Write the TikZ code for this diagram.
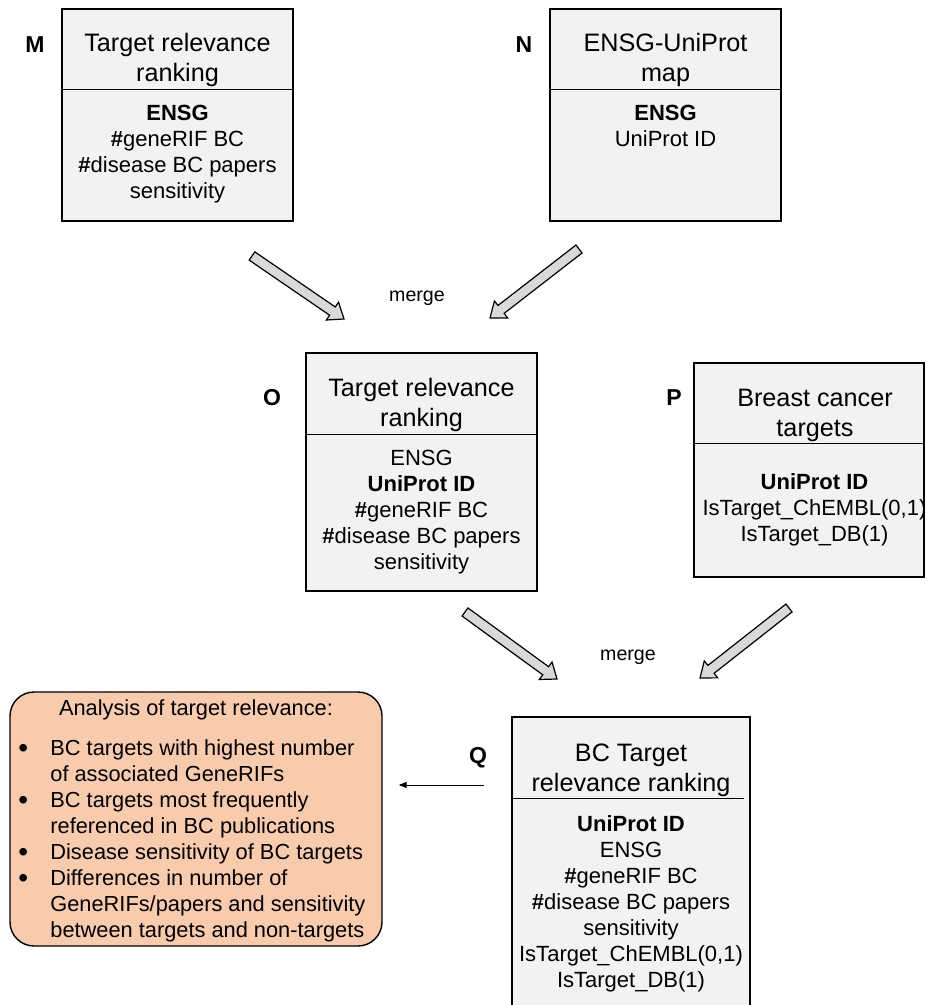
\documentclass[tikz,border=0pt]{standalone}
\usepackage{fontspec}
\setmainfont{Liberation Sans}
\usetikzlibrary{arrows.meta, calc}

\definecolor{boxgray}{HTML}{F2F2F2}
\definecolor{arrowgray}{HTML}{D9D9D9}
\definecolor{peach}{HTML}{F8CBAD}

% block arrow between two named coordinates
\newcommand{\fatarrow}[2]{%
    \path ($(#2)!7pt!(#1)$) coordinate (fa-h);
    \draw[fat] ($(#1)!2.5pt!90:(#2)$) -- ($(fa-h)!2.5pt!-90:(#1)$) -- ($(fa-h)!5.4pt!-90:(#1)$)
        -- (#2) -- ($(fa-h)!5.4pt!90:(#1)$) -- ($(fa-h)!2.5pt!90:(#1)$) -- ($(#1)!2.5pt!-90:(#2)$) -- cycle;
}
\newcommand{\blt}{\raisebox{-0.8pt}{\fontsize{14}{13}\selectfont\textbullet}}

\begin{document}
\begin{tikzpicture}[
    x=0.5pt, y=-0.5pt,
    tbl/.style={draw, fill=boxgray, line width=0.7pt, inner sep=0pt},
    sep/.style={line width=0.7pt},
    ttl/.style={font=\fontsize{12.6}{15}\selectfont, align=center, inner sep=0pt},
    fld/.style={font=\fontsize{11}{13}\selectfont, align=center, inner sep=0pt, anchor=north},
    lbl/.style={font=\fontsize{11.5}{12}\selectfont\bfseries, inner sep=0pt},
    mrg/.style={font=\fontsize{9.8}{11}\selectfont, inner sep=0pt},
    fat/.style={draw, fill=arrowgray, line width=0.6pt, line join=miter},
    link/.style={line width=0.5pt, -{Triangle[length=4pt, width=3pt]}},
    anl/.style={draw, fill=peach, line width=0.7pt, rounded corners=12pt, inner sep=0pt},
    lst/.style={font=\fontsize{10.9}{13}\selectfont, inner sep=0pt},
]
    \useasboundingbox (0,0) rectangle (926,1005);
    \clip (0,0) rectangle (926,1005);

    % tables
    \node[tbl, minimum width=115.5pt, minimum height=106pt] (M) at (177.5,115) {};
    \node[tbl, minimum width=115.5pt, minimum height=106pt] (N) at (665.5,115) {};
    \node[tbl, minimum width=115.5pt, minimum height=119pt] (O) at (421.5,472) {};
    \node[tbl, minimum width=115pt, minimum height=107pt] (P) at (809,470) {};
    \node[tbl, minimum width=119pt, minimum height=149pt] (Q) at (631,866) {};

    \foreach \b/\d in {M/81, N/81, O/82, P/81}
        \draw[sep] ($(\b.north west)+(0,\d)$) -- ($(\b.north east)+(0,\d)$);
    \draw[sep] ($(Q.north west)+(0,82)$) -- ($(Q.north east)+(-7,82)$);

    \node[ttl] (Mt) at (177.5,60) {Target relevance\\ranking};
    \node[fld] (Mf) at (177.5,105) {\textbf{ENSG}\\\textbf{\#}geneRIF BC\\\textbf{\#}disease BC papers\\sensitivity};

    \node[ttl] (Nt) at (665.5,60) {ENSG-UniProt\\map};
    \node[fld] (Nf) at (665.5,105) {\textbf{ENSG}\\UniProt ID};

    \node[ttl] (Ot) at (421.5,405) {Target relevance\\ranking};
    \node[fld] (Of) at (421.5,450) {ENSG\\\textbf{UniProt ID}\\\textbf{\#}geneRIF BC\\\textbf{\#}disease BC papers\\sensitivity};

    \node[ttl] (Pt) at (815,415) {Breast cancer\\targets};
    \node[fld] (Pf) at (814.5,473) {\textbf{UniProt ID}\\IsTarget\_ChEMBL(0,1)\\IsTarget\_DB(1)};

    \node[ttl] (Qt) at (631,770) {BC Target\\relevance ranking};
    \node[fld] (Qf) at (631,815) {\textbf{UniProt ID}\\ENSG\\\textbf{\#}geneRIF BC\\\textbf{\#}disease BC papers\\sensitivity\\IsTarget\_ChEMBL(0,1)\\IsTarget\_DB(1)};

    % labels
    \node[lbl] (Ml) at (35,45) {M};
    \node[lbl] (Nl) at (524,45) {N};
    \node[lbl] (Ol) at (272,398) {O};
    \node[lbl] (Pl) at (674,398) {P};
    \node[lbl] (Ql) at (478,758) {Q};

    % analysis box
    \node[anl, minimum width=186pt, minimum height=127pt] (an) at (196,819) {};
    \node[lst] (ant) at (196,710) {Analysis of target relevance:};
    \node[lst, anchor=north west] (anb) at (18,737) {%
        \begin{tabular}{@{}p{16pt}@{}l@{}}
        \blt & BC targets with highest number\\
         & of associated GeneRIFs\\
        \blt & BC targets most frequently\\
         & referenced in BC publications\\
        \blt & Disease sensitivity of BC targets\\
        \blt & Differences in number of\\
         & GeneRIFs/papers and sensitivity\\
         & between targets and non-targets
        \end{tabular}};

    % merges
    \node[mrg] (m1) at (417,298) {merge};
    \node[mrg] (m2) at (628,657) {merge};

    \coordinate (a1s) at (252,256);
    \coordinate (a1e) at (344,319);
    \coordinate (a2s) at (579,249);
    \coordinate (a2e) at (490,318);
    \coordinate (a3s) at (465,612);
    \coordinate (a3e) at (557,679);
    \coordinate (a4s) at (789,608);
    \coordinate (a4e) at (700,678);
    \fatarrow{a1s}{a1e}
    \fatarrow{a2s}{a2e}
    \fatarrow{a3s}{a3e}
    \fatarrow{a4s}{a4e}

    \coordinate (qy) at (0,785);
    \draw[link, shorten <=13.5pt, shorten >=8pt] (Q.west |- qy) -- (an.east |- qy);
\end{tikzpicture}
\end{document}
